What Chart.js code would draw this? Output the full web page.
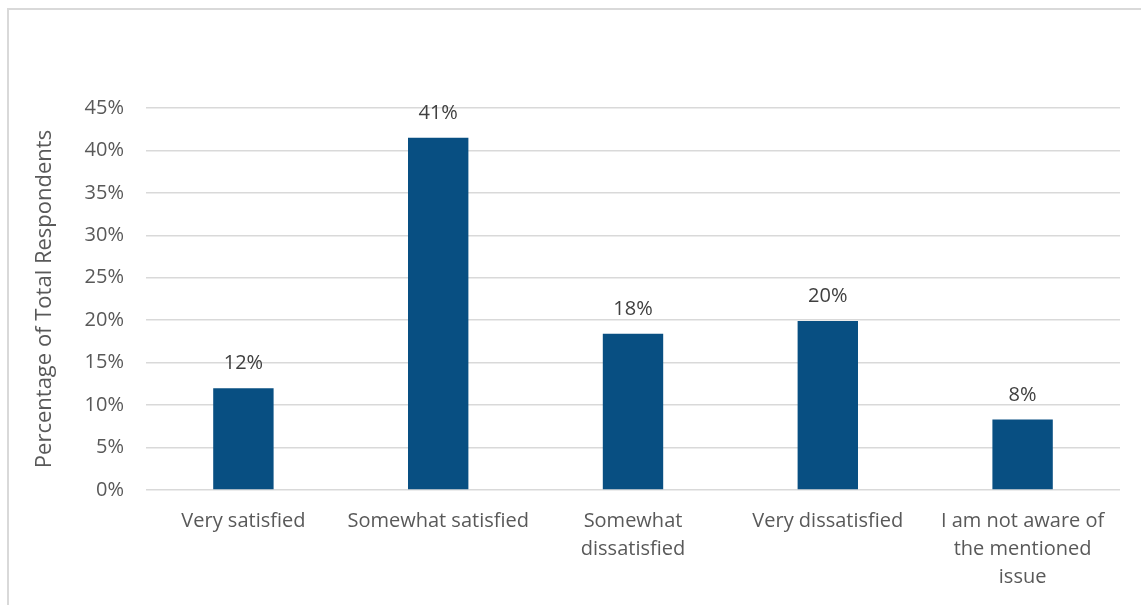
<!DOCTYPE html>
<html lang="en">
<head>
  <meta charset="UTF-8">
  <style>
    html, body { margin: 0; padding: 0; background: #fff; }
    .frame { position: absolute; left: 7px; top: 8px; width: 1150px; height: 620px; border: 2px solid #d9d9d9; box-sizing: border-box; }
    .box { position: absolute; left: 0; top: 0; width: 1141px; height: 605px; }
  </style>
</head>
<body>
  <div class="frame"></div>
  <div class="box"><canvas id="myChart" width="1141" height="605"></canvas></div>

<script src="https://cdn.jsdelivr.net/npm/chart.js"></script>
<script>
  // dados
  const categorias = [
    'Very satisfied',
    'Somewhat satisfied',
    ['Somewhat', 'dissatisfied'],
    'Very dissatisfied',
    ['I am not aware of', 'the mentioned', 'issue']
  ];
  const percentuais = [12.0, 41.5, 18.4, 19.9, 8.3];
  const rotulos = ['12%', '41%', '18%', '20%', '8%'];
  const ticksY = [0, 5, 10, 15, 20, 25, 30, 35, 40, 45];

  const corBarra = '#084f82';
  const corTexto = '#595959';
  const corGrade = '#d9d9d9';
  const fonte = "'Open Sans', sans-serif";

  // rótulos em cima das barras
  const rotulosPlugin = {
    id: 'rotulos',
    afterDatasetsDraw(chart) {
      const ctx = chart.ctx;
      const meta = chart.getDatasetMeta(0);
      ctx.save();
      ctx.font = '20px ' + fonte;
      ctx.fillStyle = '#404040';
      ctx.textAlign = 'center';
      ctx.textBaseline = 'alphabetic';
      meta.data.forEach((bar, i) => {
        ctx.fillText(rotulos[i], bar.x, bar.y - 19);
      });
      ctx.restore();
    }
  };

  const ctx = document.getElementById('myChart');
  new Chart(ctx, {
    type: 'bar',
    data: {
      labels: categorias,
      datasets: [{
        data: percentuais,
        backgroundColor: corBarra,
        barPercentage: 0.31,
        categoryPercentage: 1
      }]
    },
    options: {
      responsive: false,
      animation: false,
      layout: { padding: { top: 108, right: 21, left: 0, bottom: 0 } },
      plugins: {
        legend: { display: false },
        tooltip: { enabled: false }
      },
      scales: {
        x: {
          grid: { display: false },
          border: { display: false },
          ticks: {
            color: corTexto,
            font: { family: fonte, size: 20, lineHeight: 1.4 },
            padding: 9,
            maxRotation: 0,
            autoSkip: false
          },
          afterFit(scale) { scale.height = 115; }
        },
        y: {
          min: 0,
          max: 45,
          afterBuildTicks(scale) { scale.ticks = ticksY.map(v => ({ value: v })); },
          grid: { color: corGrade, lineWidth: 1.5, drawTicks: false },
          border: { display: false },
          ticks: {
            color: corTexto,
            font: { family: fonte, size: 20 },
            padding: 22,
            callback: v => v + '%'
          },
          title: {
            display: true,
            text: 'Percentage of Total Respondents',
            color: corTexto,
            font: { family: fonte, size: 22 },
            padding: { top: 32, bottom: 0 }
          },
          afterFit(scale) { scale.width = 146; }
        }
      }
    },
    plugins: [rotulosPlugin]
  });
</script>
</body>
</html>
